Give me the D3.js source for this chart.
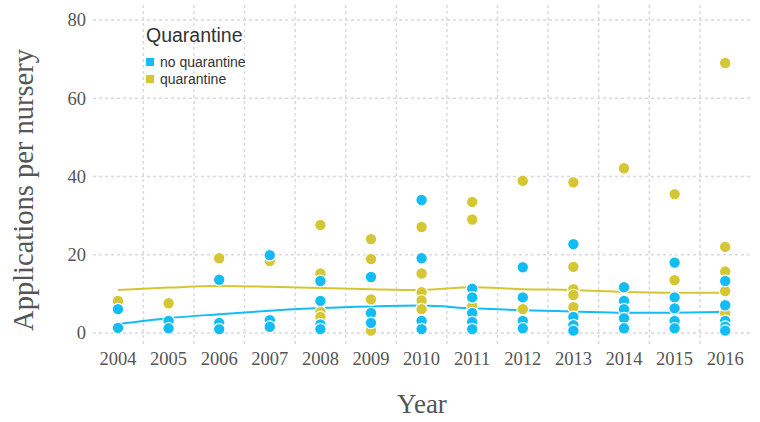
<!DOCTYPE html>
<html>
<head>
<meta charset="utf-8">
<script src="https://cdn.jsdelivr.net/npm/d3@7"></script>
<style>
  body { margin: 0; background: #fff; }
  .tick-label { font-family: "Liberation Serif", "Times New Roman", serif; font-size: 18.5px; fill: #555; }
  .axis-title { font-family: "Liberation Serif", "Times New Roman", serif; font-size: 27px; fill: #555; }
  .legend-title { font-family: "Liberation Sans", Arial, sans-serif; font-size: 19.5px; fill: #333; }
  .legend-label { font-family: "Liberation Sans", Arial, sans-serif; font-size: 14px; fill: #333; }
</style>
</head>
<body>
<div id="chart"></div>
<script>
var width = 760, height = 422;

var years = [2004, 2005, 2006, 2007, 2008, 2009, 2010, 2011, 2012, 2013, 2014, 2015, 2016];
var yTicks = [0, 20, 40, 60, 80];

// points per year, same order as years
var noQuarantine = [
  [6.1, 1.3], [3.1, 1.2], [13.6, 2.6, 1.0], [19.9, 3.3, 1.6],
  [13.3, 8.2, 2.2, 1.0], [14.3, 5.1, 2.6], [34.0, 19.1, 3.1, 1.0],
  [11.3, 9.1, 5.1, 2.8, 1.0], [16.8, 9.1, 3.1, 1.2], [22.7, 4.1, 2.0, 0.6],
  [11.7, 8.2, 6.1, 3.8, 1.2], [18.0, 9.1, 6.3, 3.1, 1.2], [13.3, 7.1, 3.1, 1.6, 0.6]
];
var quarantine = [
  [8.2], [7.6], [19.1], [18.4],
  [27.6, 15.2, 5.4, 4.1], [24.0, 18.9, 8.6, 0.6], [27.1, 15.2, 10.4, 8.3, 6.1],
  [33.5, 29.0, 6.9], [38.9, 6.1, 1.2], [38.5, 16.9, 11.2, 9.7, 6.6],
  [42.1], [35.5, 13.5], [69.0, 22.0, 15.7, 10.7, 5.0]
];

// smoothed trend per year
var noQuarantineTrend = [2.3, 3.8, 4.8, 5.7, 6.4, 6.8, 7.0, 6.3, 5.8, 5.5, 5.2, 5.2, 5.4];
var quarantineTrend = [11.0, 11.6, 12.0, 11.8, 11.5, 11.2, 11.0, 11.7, 11.2, 11.0, 10.5, 10.3, 10.3];

var seriesNames = ["no quarantine", "quarantine"];
var colors = {"no quarantine": "#12bdf5", "quarantine": "#d5c633"};

var svg = d3.select("#chart").append("svg")
  .attr("width", width)
  .attr("height", height);

var x = d3.scaleBand().domain(years).range([92.7, 750.5]).padding(0);
var y = d3.scaleLinear().domain([0, 80]).range([333, 20]);

// grid
svg.selectAll(".hgrid").data(yTicks).enter().append("line")
  .attr("x1", 93).attr("x2", 750)
  .attr("y1", function(d){ return y(d); })
  .attr("y2", function(d){ return y(d); })
  .attr("stroke", "#d8d8e8")
  .attr("stroke-width", 1.5)
  .attr("stroke-dasharray", "3,3");

svg.selectAll(".vgrid").data(years.slice(1)).enter().append("line")
  .attr("x1", function(d){ return x(d); })
  .attr("x2", function(d){ return x(d); })
  .attr("y1", 5).attr("y2", 347)
  .attr("stroke", "#d8d8e8")
  .attr("stroke-width", 1.5)
  .attr("stroke-dasharray", "3,3");

// tick labels
svg.selectAll(".xlab").data(years).enter().append("text")
  .attr("class", "tick-label")
  .attr("x", function(d){ return x(d) + x.bandwidth() / 2; })
  .attr("y", 365)
  .attr("text-anchor", "middle")
  .text(function(d){ return d; });

svg.selectAll(".ylab").data(yTicks).enter().append("text")
  .attr("class", "tick-label")
  .attr("x", 86)
  .attr("y", function(d){ return y(d); })
  .attr("dy", "0.35em")
  .attr("text-anchor", "end")
  .text(function(d){ return d; });

svg.append("text")
  .attr("class", "axis-title")
  .attr("x", 422).attr("y", 413)
  .attr("text-anchor", "middle")
  .text("Year");

svg.append("text")
  .attr("class", "axis-title")
  .attr("transform", "translate(33,190) rotate(-90)")
  .attr("text-anchor", "middle")
  .style("font-size", "28.5px")
  .text("Applications per nursery");

// trend lines
var cx = function(i){ return x(years[i]) + x.bandwidth() / 2; };
var line = d3.line()
  .x(function(d, i){ return cx(i); })
  .y(function(d){ return y(d); })
  .curve(d3.curveMonotoneX);

svg.append("path").datum(quarantineTrend)
  .attr("d", line).attr("fill", "none")
  .attr("stroke", colors["quarantine"]).attr("stroke-width", 2);
svg.append("path").datum(noQuarantineTrend)
  .attr("d", line).attr("fill", "none")
  .attr("stroke", colors["no quarantine"]).attr("stroke-width", 2);

// points
function flatten(arr, name) {
  var out = [];
  arr.forEach(function(vals, i){
    vals.forEach(function(v){ out.push({year: years[i], value: v, name: name}); });
  });
  return out;
}
var points = flatten(quarantine, "quarantine").concat(flatten(noQuarantine, "no quarantine"));

svg.selectAll(".pt").data(points).enter().append("circle")
  .attr("cx", function(d){ return x(d.year) + x.bandwidth() / 2; })
  .attr("cy", function(d){ return y(d.value); })
  .attr("r", 5.8)
  .attr("fill", function(d){ return colors[d.name]; })
  .attr("stroke", "#fff")
  .attr("stroke-width", 1.2);

// legend
var legend = svg.append("g").attr("transform", "translate(146,0)");
legend.append("text").attr("class", "legend-title")
  .attr("x", 0).attr("y", 42).text("Quarantine");
var items = legend.selectAll(".item").data(seriesNames).enter().append("g")
  .attr("transform", function(d, i){ return "translate(0," + (58 + i * 17) + ")"; });
items.append("rect").attr("width", 8).attr("height", 8)
  .attr("fill", function(d){ return colors[d]; });
items.append("text").attr("class", "legend-label")
  .attr("x", 14).attr("y", 9).text(function(d){ return d; });
</script>
</body>
</html>
